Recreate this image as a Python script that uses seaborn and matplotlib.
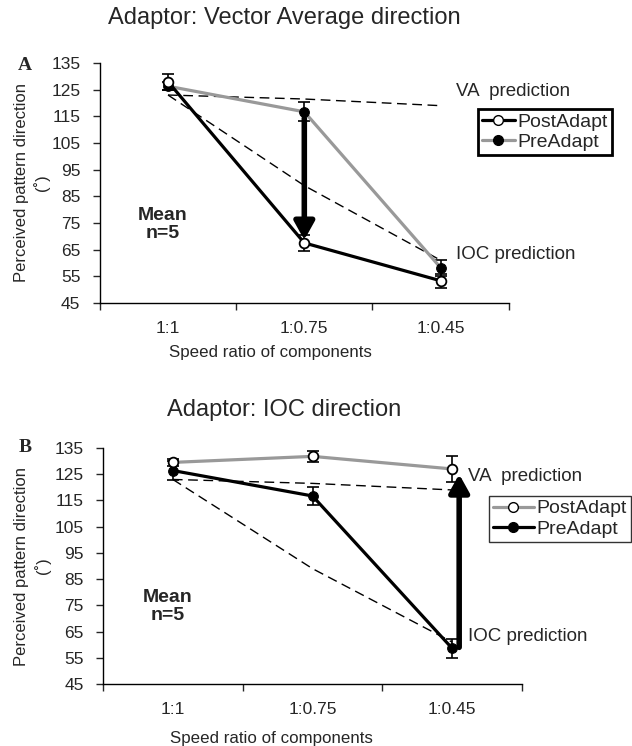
import matplotlib
matplotlib.use("Agg")
import matplotlib.pyplot as plt
from matplotlib.lines import Line2D
from matplotlib.ticker import FixedLocator, NullFormatter
import numpy as np
import seaborn as sns

# --- data -------------------------------------------------------------
categories = ["1:1", "1:0.75", "1:0.45"]

# panel A: adaptor = vector average direction
post_a = [128.0, 67.5, 53.3]
post_a_err = [3.0, 3.0, 2.7]
pre_a = [126.3, 116.7, 58.2]
pre_a_err = [1.5, 3.5, 3.0]

# panel B: adaptor = IOC direction
post_b = [129.5, 131.8, 127.0]
post_b_err = [1.2, 2.2, 5.0]
pre_b = [126.4, 116.7, 58.6]
pre_b_err = [3.5, 3.3, 3.5]

# model predictions (same in both panels)
va_pred = [123.0, 121.5, 119.0]
ioc_pred = [123.0, 89.0, 61.0]

# arrows: (start, end) in degrees
arrow_a = (114.3, 68.6)
arrow_b = (59.0, 125.0)

GREY = "#999999"
FONT = ["Liberation Sans", "DejaVu Sans"]

sns.set_style("ticks")
plt.rcParams["font.family"] = FONT
plt.rcParams["lines.dashed_pattern"] = (7, 4)


def draw_panel(ax, post, post_err, pre, pre_err, post_color, pre_color):
    x = np.arange(len(categories))

    # prediction lines
    sns.lineplot(x=x, y=va_pred, ax=ax, color="black", lw=1.0, linestyle="--")
    sns.lineplot(x=x, y=ioc_pred, ax=ax, color="black", lw=1.0, linestyle="--")

    # error bars
    ax.errorbar(x, post, yerr=post_err, fmt="none", ecolor="black",
                elinewidth=1.2, capsize=4, capthick=1.2, zorder=3)
    ax.errorbar(x, pre, yerr=pre_err, fmt="none", ecolor="black",
                elinewidth=1.2, capsize=4, capthick=1.2, zorder=3)

    # data
    sns.lineplot(x=x, y=pre, ax=ax, color=pre_color, lw=2.3, marker="o",
                 markersize=7, markerfacecolor="black", markeredgecolor="black",
                 zorder=4)
    sns.lineplot(x=x, y=post, ax=ax, color=post_color, lw=2.3, marker="o",
                 markersize=7, markerfacecolor="white", markeredgecolor="black",
                 markeredgewidth=1.3, zorder=5)

    ax.set_xlim(-0.5, len(categories) - 0.5)
    ax.set_ylim(45, 135)
    ax.set_yticks(np.arange(45, 136, 10))
    ax.xaxis.set_major_locator(FixedLocator(np.arange(-0.5, len(categories), 1.0)))
    ax.xaxis.set_major_formatter(NullFormatter())
    ax.xaxis.set_minor_locator(FixedLocator(x))
    ax.set_xticklabels(categories, minor=True)
    ax.tick_params(axis="x", which="minor", length=0, pad=13, labelsize=12.5)
    ax.tick_params(axis="x", which="major", length=5, width=1, direction="out")
    ax.tick_params(axis="y", length=5, width=1, direction="out", pad=9,
                   labelsize=12.5)
    sns.despine(ax=ax)
    for s in ("left", "bottom"):
        ax.spines[s].set_linewidth(1.0)
        ax.spines[s].set_color("black")

    ax.set_ylabel("Perceived pattern direction\n(˚)", fontsize=12,
                  linespacing=1.3)
    ax.set_xlabel("Speed ratio of components", fontsize=12.2)

    ax.text(-0.04, 74.5, "Mean\nn=5", ha="center", va="center",
            fontsize=14, fontweight="bold", linespacing=1.1)
    ax.text(2.11, 124.3, "VA  prediction", ha="left", va="center", fontsize=13.5)
    ax.text(2.11, 63.2, "IOC prediction", ha="left", va="center", fontsize=13.5)

    handles = [
        Line2D([], [], color=post_color, lw=2.3, marker="o", markersize=7,
               markerfacecolor="white", markeredgecolor="black"),
        Line2D([], [], color=pre_color, lw=2.3, marker="o", markersize=7,
               markerfacecolor="black", markeredgecolor="black"),
    ]
    return handles


def add_legend(ax, handles, anchor, edge, lw, hlen):
    leg = ax.legend(handles, ["PostAdapt", "PreAdapt"], loc="upper left",
                    bbox_to_anchor=anchor, borderaxespad=0,
                    fontsize=14, handlelength=hlen, handletextpad=0.15,
                    borderpad=0.2, labelspacing=0.15, fancybox=False,
                    framealpha=1)
    leg.get_frame().set_edgecolor(edge)
    leg.get_frame().set_linewidth(lw)
    return leg


fig = plt.figure(figsize=(6.32, 7.46), dpi=100)
ax_a = fig.add_axes([0.158, 0.594, 0.647, 0.3215])
ax_b = fig.add_axes([0.163, 0.083, 0.663, 0.3165])

# Panel A
h = draw_panel(ax_a, post_a, post_a_err, pre_a, pre_a_err, "black", GREY)
add_legend(ax_a, h, (0.924, 0.808), "black", 2.0, 1.7)
ax_a.annotate("", xy=(1, arrow_a[1]), xytext=(1, arrow_a[0]),
              arrowprops=dict(arrowstyle="-|>,head_width=0.5,head_length=0.9",
                              lw=4, color="black", shrinkA=0, shrinkB=0,
                              mutation_scale=12), zorder=6)
ax_a.xaxis.set_label_coords(0.418, -0.175)
ax_a.yaxis.set_label_coords(-0.122, 0.5)

# Panel B
h = draw_panel(ax_b, post_b, post_b_err, pre_b, pre_b_err, GREY, "black")
add_legend(ax_b, h, (0.921, 0.797), "#333333", 1.0, 2.1)
ax_b.annotate("", xy=(2.05, arrow_b[1]), xytext=(2.05, arrow_b[0]),
              arrowprops=dict(arrowstyle="-|>,head_width=0.5,head_length=0.9",
                              lw=4, color="black", shrinkA=0, shrinkB=0,
                              mutation_scale=12), zorder=6)
ax_b.xaxis.set_label_coords(0.401, -0.2)
ax_b.yaxis.set_label_coords(-0.125, 0.5)

fig.text(284 / 632, 1 - 18 / 746, "Adaptor: Vector Average direction",
         ha="center", va="center", fontsize=17)
fig.text(284 / 632, 1 - 410 / 746, "Adaptor: IOC direction",
         ha="center", va="center", fontsize=17)
fig.text(25 / 632, 1 - 66 / 746, "A", ha="center", va="center", fontsize=14,
         fontweight="bold", family=["Liberation Serif", "DejaVu Serif"])
fig.text(25 / 632, 1 - 448 / 746, "B", ha="center", va="center", fontsize=14,
         fontweight="bold", family=["Liberation Serif", "DejaVu Serif"])

fig.savefig("out.png", dpi=100)
